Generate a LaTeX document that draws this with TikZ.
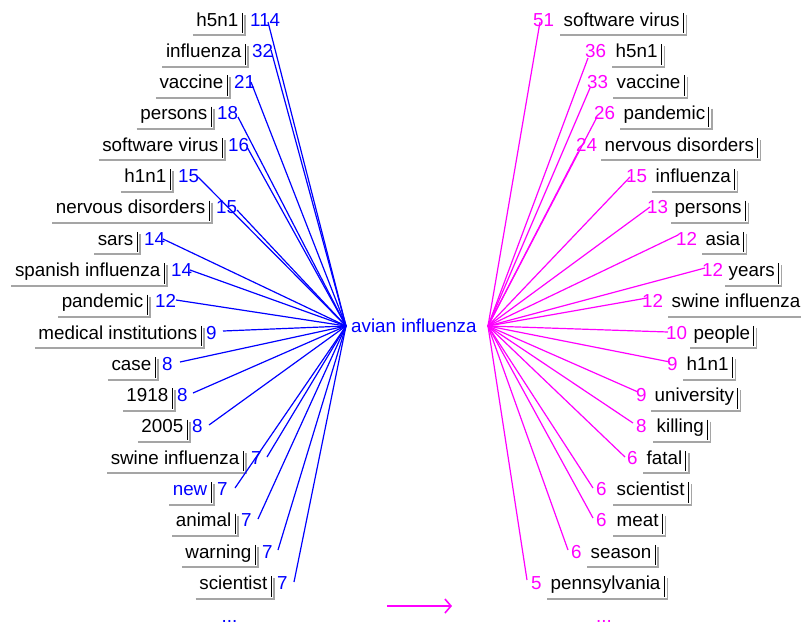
\documentclass[tikz,border=0pt]{standalone}
\usepackage{fontspec}
\setmainfont{Liberation Sans}
\usetikzlibrary{arrows.meta,calc}
\definecolor{lblue}{RGB}{0,0,255}
\definecolor{lmag}{RGB}{255,0,255}
\definecolor{bgray}{RGB}{165,165,165}
\begin{document}
\begin{tikzpicture}[x=1pt,y=-1pt,
  txt/.style={font=\fontsize{18.8}{20}\selectfont, inner sep=0pt},
  lbl/.style={txt, inner xsep=3.5pt, inner ysep=1pt, text height=14pt, text depth=4pt},
  num/.style={txt, inner ysep=1pt, text height=14pt, text depth=4pt},
  bl/.style={draw=lblue, line width=1.2pt},
  mg/.style={draw=lmag, line width=1.2pt},
  edgeblack/.style={draw=black, line width=0.9pt},
  edgegray/.style={draw=bgray, line width=1.2pt},
  edgebottom/.style={draw=bgray, line width=2pt},
]
\useasboundingbox (0,0) rectangle (801,627);
\fill[white] (0,0) rectangle (801,627);

\node[txt, text=lblue, anchor=west] (ctr) at (351,326) {avian influenza};
\coordinate (hubL) at (346,326);
\coordinate (hubR) at (488,326);

% left column
\foreach \i/\lab/\num/\bx/\nx/\ex/\ey/\tc in {
  1/h5n1/114/242/251/268/22/black,
  2/influenza/32/245/253/271/50/black,
  3/vaccine/21/227/235/251/82/black,
  4/persons/18/211/218/238/117/black,
  5/software virus/16/222/229/247/147/black,
  6/h1n1/15/170/179/198/177/black,
  7/nervous disorders/15/209/217/237/210/black,
  8/sars/14/137/145/163/239/black,
  9/spanish influenza/14/164/172/190/270/black,
  10/pandemic/12/147/156/176/300/black,
  11/medical institutions/9/201/207/223/331/black,
  12/case/8/155/163/180/362/black,
  13/1918/8/172/178/193/393/black,
  14/2005/8/187/193/209/425/black,
  15/swine influenza/7/243/252/267/457/black,
  16/new/7/211/218/235/488/lblue,
  17/animal/7/235/242/258/519/black,
  18/warning/7/255/263/278/550/black,
  19/scientist/7/271/278/294/582/black}
{
  \pgfmathsetmacro\yc{21+(\i-1)*31.3}
  \node[lbl, text=\tc, anchor=east] (L\i) at (\bx,\yc) {\lab};
  \node[num, text=lblue, anchor=west] (LN\i) at (\nx-1,\yc) {\num};
  \draw[edgeblack] ($(L\i.north east)+(0,2)$) -- ($(L\i.south east)+(0,2)$);
  \draw[edgegray] ($(L\i.north east)+(3,4)$) -- ($(L\i.south east)+(3,4)$);
  \draw[edgebottom] ($(L\i.south west)+(0,4)$) -- ($(L\i.south east)+(3.6,4)$);
  \coordinate (EL\i) at (\ex,\ey);
  \draw[bl] (hubL) -- (EL\i);
}

% right column
\foreach \i/\lab/\num/\bx/\nx/\ex/\ey in {
  1/software virus/51/560/534/540/22,
  2/h5n1/36/612/586/588/58,
  3/vaccine/33/613/588/590/88,
  4/pandemic/26/620/595/597/117,
  5/nervous disorders/24/601/577/578/152,
  6/influenza/15/652/627/630/177,
  7/persons/13/671/648/650/207,
  8/asia/12/702/677/678/235,
  9/years/12/725/703/705/268,
  10/swine influenza/12/668/643/647/298,
  11/people/10/690/667/668/332,
  12/h1n1/9/683/668/670/362,
  13/university/9/651/637/638/392,
  14/killing/8/653/637/633/423,
  15/fatal/6/643/628/625/457,
  16/scientist/6/613/597/593/488,
  17/meat/6/613/597/593/518,
  18/season/6/587/572/568/550,
  19/pennsylvania/5/547/532/527/580}
{
  \pgfmathsetmacro\yc{21+(\i-1)*31.3}
  \node[lbl, text=black, anchor=west] (R\i) at (\bx,\yc) {\lab};
  \node[num, text=lmag, anchor=west] (RN\i) at (\nx-1,\yc) {\num};
  \draw[edgeblack] ($(R\i.north east)+(0,2)$) -- ($(R\i.south east)+(0,2)$);
  \draw[edgegray] ($(R\i.north east)+(3,4)$) -- ($(R\i.south east)+(3,4)$);
  \draw[edgebottom] ($(R\i.south west)+(0,4)$) -- ($(R\i.south east)+(3.6,4)$);
  \coordinate (ER\i) at (\ex,\ey);
  \draw[mg] (hubR) -- (ER\i);
}

\node[txt, text=lblue, anchor=base] (dotsL) at (229.5,622.5) {...};
\node[txt, text=lmag, anchor=base] (dotsR) at (604,622.5) {...};

\coordinate (arA) at (387,606);
\coordinate (arB) at (452,606);
\draw[draw=lmag, line width=1.6pt, -{Straight Barb[length=6pt,width=14pt]}] (arA) -- (arB);
\end{tikzpicture}
\end{document}
